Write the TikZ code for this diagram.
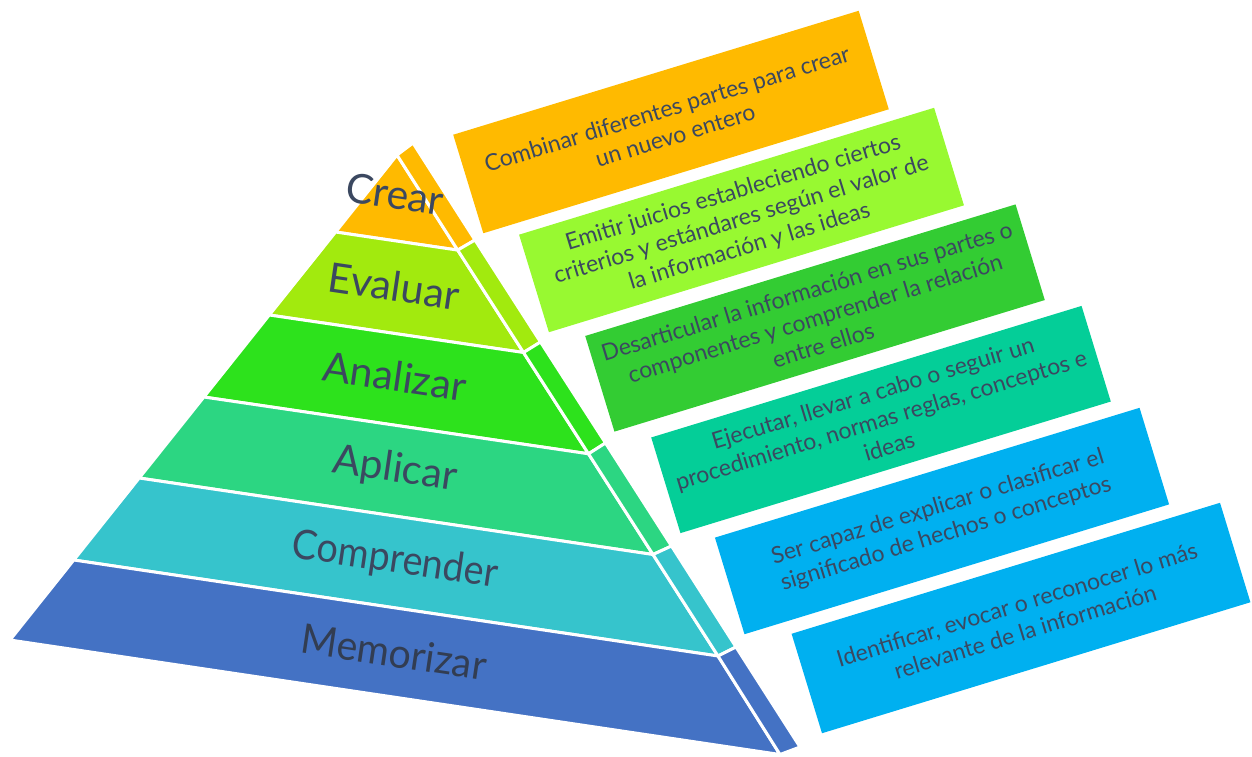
\documentclass[tikz,border=0pt]{standalone}
\usepackage{fontspec}
\setmainfont{Lato}
\definecolor{txt}{HTML}{3B4860}
\definecolor{fCrear}{HTML}{FFBA00}
\definecolor{fEval}{HTML}{A2EA0E}
\definecolor{fAnal}{HTML}{2DE21C}
\definecolor{fApli}{HTML}{2CD682}
\definecolor{fComp}{HTML}{36C4CC}
\definecolor{fMemo}{HTML}{4472C4}
\definecolor{bCrear}{HTML}{FFBA00}
\definecolor{bEval}{HTML}{98F931}
\definecolor{bAnal}{HTML}{33CC33}
\definecolor{bApli}{HTML}{04CE98}
\definecolor{bBlue}{HTML}{00B0F0}
\begin{document}
\begin{tikzpicture}[x=1pt,y=-1pt,
  face/.style={draw=white,line width=3pt,line join=round},
  lbl/.style={text=txt,font=\fontsize{41}{44}\selectfont,rotate=-8.4,inner sep=0pt},
  infobox/.style={rotate=17,inner sep=0pt,align=center,text=txt,
    font=\fontsize{23}{28}\selectfont}]
\useasboundingbox (0,0) rectangle (1252,756);
% pyramid corner points
\coordinate (A) at (397,155);
\coordinate (T) at (413,143);
\coordinate (L1) at (335.6,232);
\coordinate (L2) at (269.3,315);
\coordinate (L3) at (203.9,397);
\coordinate (L4) at (139.2,478);
\coordinate (L5) at (73.8,560);
\coordinate (L6) at (10,640);
\coordinate (R1) at (457.7,250.1);
\coordinate (R2) at (523.5,352.5);
\coordinate (R3) at (588.5,453.8);
\coordinate (R4) at (653,554.5);
\coordinate (R5) at (718,656);
\coordinate (R6) at (780,754.5);
\coordinate (O1) at (475,240);
\coordinate (O2) at (540.5,342);
\coordinate (O3) at (605.5,443);
\coordinate (O4) at (671.5,546);
\coordinate (O5) at (736,647);
\coordinate (O6) at (800,747);
% front faces
\fill[fCrear,face] (A) -- (R1) -- (L1) -- cycle;
\fill[fEval,face] (L1) -- (R1) -- (R2) -- (L2) -- cycle;
\fill[fAnal,face] (L2) -- (R2) -- (R3) -- (L3) -- cycle;
\fill[fApli,face] (L3) -- (R3) -- (R4) -- (L4) -- cycle;
\fill[fComp,face] (L4) -- (R4) -- (R5) -- (L5) -- cycle;
\fill[fMemo,face] (L5) -- (R5) -- (R6) -- (L6) -- cycle;
% side faces
\fill[fCrear,face] (A) -- (T) -- (O1) -- (R1) -- cycle;
\fill[fEval,face] (R1) -- (O1) -- (O2) -- (R2) -- cycle;
\fill[fAnal,face] (R2) -- (O2) -- (O3) -- (R3) -- cycle;
\fill[fApli,face] (R3) -- (O3) -- (O4) -- (R4) -- cycle;
\fill[fComp,face] (R4) -- (O4) -- (O5) -- (R5) -- cycle;
\fill[fMemo,face] (R5) -- (O5) -- (O6) -- (R6) -- cycle;
% labels
\node[lbl] (lCrear) at (395,194) {Crear};
\node[lbl] (lEval) at (394,286) {Evaluar};
\node[lbl] (lAnal) at (395,376) {Analizar};
\node[lbl] (lApli) at (395,470) {Aplicar};
\node[lbl] (lComp) at (395,561) {\scalebox{0.92}[1]{Comprender}};
\node[lbl,text=txt!85!black] (lMemo) at (394,652) {\scalebox{0.96}[1]{Memorizar}};
% info boxes
\node[infobox,fill=bCrear,minimum width=424pt,minimum height=103pt] (b1) at (671,122)
  {Combinar diferentes partes para crear\\ un nuevo entero};
\node[infobox,fill=bEval,minimum width=434pt,minimum height=102pt] (b2) at (741.5,220)
  {Emitir juicios estableciendo ciertos\\ criterios y estándares según el valor de\\ la información y las ideas};
\node[infobox,fill=bAnal,minimum width=450pt,minimum height=100pt] (b3) at (815,318)
  {Desarticular la información en sus partes o\\ componentes y comprender la relación\\ entre ellos};
\node[infobox,fill=bApli,minimum width=450pt,minimum height=100pt] (b4) at (881,419.5)
  {Ejecutar, llevar a cabo o seguir un\\ procedimiento, normas reglas, conceptos e\\ ideas};
\node[infobox,fill=bBlue,minimum width=444pt,minimum height=101pt] (b5) at (942,521)
  {Ser capaz de explicar o clasificar el\\ significado de hechos o conceptos};
\node[infobox,fill=bBlue,minimum width=448pt,minimum height=104pt] (b6) at (1021,618)
  {Identificar, evocar o reconocer lo más\\ relevante de la información};
\end{tikzpicture}
\end{document}
